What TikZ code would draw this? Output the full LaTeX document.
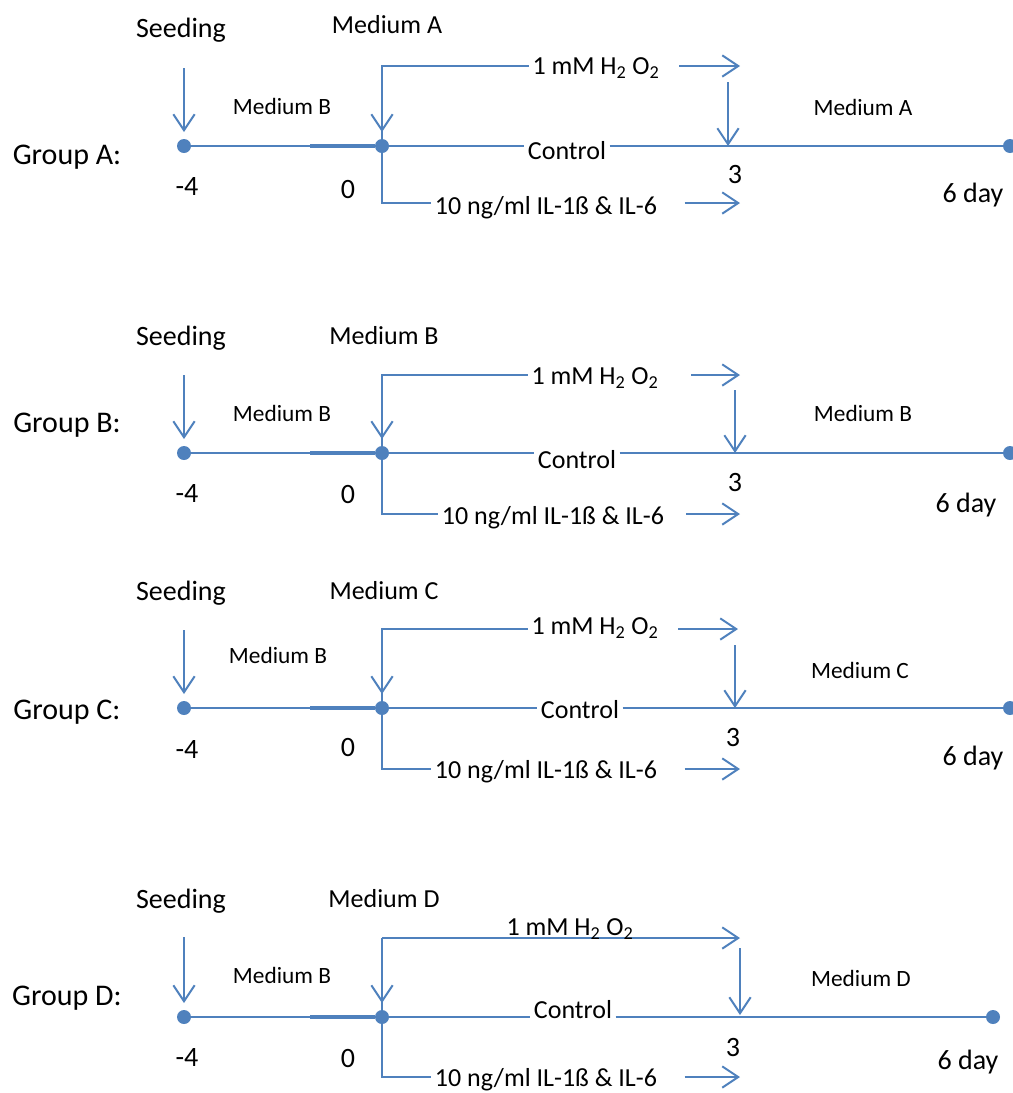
\documentclass[tikz,border=0pt]{standalone}
\usepackage{fontspec}
\setmainfont{Carlito}
\usetikzlibrary{arrows.meta}
\definecolor{ob}{HTML}{4F81BD}
\tikzset{
  ln/.style={draw=ob,line width=2.1pt},
  thk/.style={draw=ob,line width=2.5pt},
  br/.style={draw=ob,line width=1.7pt},
  arr/.style={draw=ob,line width=1.5pt,-{Straight Barb[length=12pt,width=16pt,line width=1.5pt]}},
  darr/.style={arr,shorten >=5pt},
  dot/.style={circle,fill=ob,minimum size=10.5pt,inner sep=0pt},
  grp/.style={font=\fontsize{22.5}{26}\selectfont,inner sep=0pt},
  big/.style={font=\fontsize{21}{25}\selectfont,inner sep=0pt},
  top/.style={font=\fontsize{19.5}{23}\selectfont,inner sep=0pt},
  mid/.style={font=\fontsize{19.5}{23}\selectfont,inner sep=2.5pt},
  med/.style={font=\fontsize{17.5}{21}\selectfont,inner sep=0pt},
}
\newcommand{\hho}{1 mM H\textsubscript{2} O\textsubscript{2}}
\begin{document}
\begin{tikzpicture}[x=0.75pt,y=-0.75pt]
\useasboundingbox (0,0) rectangle (1013,1093);
% ---------------- Group A ----------------
\node[grp] (ga) at (67,157) {Group A:};
\node[big] (sa) at (181,30) {Seeding};
\node[top] (mta) at (387,25) {Medium A};
\node[med] (mba) at (282,106) {Medium B};
\node[med] (mra) at (863,107) {Medium A};
\node[big] (na4) at (187,187) {-4};
\node[big] (na0) at (348,190) {0};
\node[big] (na3) at (735,175) {3};
\node[big] (na6) at (973,195) {6 day};
\node[mid] (ha) at (596,68) {\hho};
\node[mid] (ca) at (567,151) {Control};
\node[mid] (ia) at (546,208) {10 ng/ml IL-1ß \& IL-6};
\coordinate (sat) at (184,68);
\coordinate (ta) at (382,66);
\coordinate (ba) at (382,203);
\coordinate (hae) at (740,66);
\coordinate (iae) at (740,203);
\coordinate (d3a) at (728,82);
\coordinate (k3a) at (728,146);
\coordinate (tka) at (310,146);
\node[dot] (da4) at (184,146) {};
\node[dot] (da0) at (382,146) {};
\node[dot] (da6) at (1010,146) {};
\draw[ln] (da4) -- (da0) -- (da0 -| ca.west);
\draw[ln] (da6 -| ca.east) -- (da6);
\draw[thk] (tka) -- (da0);
\draw[br] (da0) -- (ta) -- (ta -| ha.west);
\draw[br] (da0) -- (ba) -- (ba -| ia.west);
\draw[arr] ([xshift=12pt]hae -| ha.east) -- (hae);
\draw[arr] ([xshift=18pt]iae -| ia.east) -- (iae);
\draw[darr] (sat) -- (da4.north);
\draw[darr] (ta) -- (da0.north);
\draw[arr] (d3a) -- (k3a);
% ---------------- Group B ----------------
\node[grp] (gb) at (67,425) {Group B:};
\node[big] (sb) at (181,338) {Seeding};
\node[top] (mtb) at (384,336) {Medium B};
\node[med] (mbb) at (282,413) {Medium B};
\node[med] (mrb) at (863,413) {Medium B};
\node[big] (nb4) at (187,494) {-4};
\node[big] (nb0) at (348,495) {0};
\node[big] (nb3) at (735,483) {3};
\node[big] (nb6) at (966,505) {6 day};
\node[mid] (hb) at (595,378) {\hho};
\node[mid] (cb) at (577,460) {Control};
\node[mid] (ib) at (553,518) {10 ng/ml IL-1ß \& IL-6};
\coordinate (sbt) at (184,375);
\coordinate (tb) at (382,375);
\coordinate (bb) at (382,514);
\coordinate (hbe) at (740,375);
\coordinate (ibe) at (740,514);
\coordinate (d3b) at (735,390);
\coordinate (k3b) at (735,453);
\coordinate (tkb) at (310,453);
\node[dot] (db4) at (184,453) {};
\node[dot] (db0) at (382,453) {};
\node[dot] (db6) at (1010,453) {};
\draw[ln] (db4) -- (db0) -- (db0 -| cb.west);
\draw[ln] (db6 -| cb.east) -- (db6);
\draw[thk] (tkb) -- (db0);
\draw[br] (db0) -- (tb) -- (tb -| hb.west);
\draw[br] (db0) -- (bb) -- (bb -| ib.west);
\draw[arr] ([xshift=22pt]hbe -| hb.east) -- (hbe);
\draw[arr] ([xshift=14pt]ibe -| ib.east) -- (ibe);
\draw[darr] (sbt) -- (db4.north);
\draw[darr] (tb) -- (db0.north);
\draw[arr] (d3b) -- (k3b);
% ---------------- Group C ----------------
\node[grp] (gc) at (67,712) {Group C:};
\node[big] (sc) at (181,593) {Seeding};
\node[top] (mtc) at (384,591) {Medium C};
\node[med] (mbc) at (278,655) {Medium B};
\node[med] (mrc) at (860,670) {Medium C};
\node[big] (nc4) at (187,749) {-4};
\node[big] (nc0) at (348,747) {0};
\node[big] (nc3) at (733,737) {3};
\node[big] (nc6) at (973,758) {6 day};
\node[mid] (hc) at (595,628) {\hho};
\node[mid] (cc) at (580,710) {Control};
\node[mid] (ic) at (546,772) {10 ng/ml IL-1ß \& IL-6};
\coordinate (sct) at (184,630);
\coordinate (tc) at (382,629);
\coordinate (bc) at (382,769);
\coordinate (hce) at (738,629);
\coordinate (ice) at (740,769);
\coordinate (d3c) at (735,645);
\coordinate (k3c) at (735,708);
\coordinate (tkc) at (310,708);
\node[dot] (dc4) at (184,708) {};
\node[dot] (dc0) at (382,708) {};
\node[dot] (dc6) at (1010,708) {};
\draw[ln] (dc4) -- (dc0) -- (dc0 -| cc.west);
\draw[ln] (dc6 -| cc.east) -- (dc6);
\draw[thk] (tkc) -- (dc0);
\draw[br] (dc0) -- (tc) -- (tc -| hc.west);
\draw[br] (dc0) -- (bc) -- (bc -| ic.west);
\draw[arr] ([xshift=12pt]hce -| hc.east) -- (hce);
\draw[arr] ([xshift=18pt]ice -| ic.east) -- (ice);
\draw[darr] (sct) -- (dc4.north);
\draw[darr] (tc) -- (dc0.north);
\draw[arr] (d3c) -- (k3c);
% ---------------- Group D ----------------
\node[grp] (gd) at (67,998) {Group D:};
\node[big] (sd) at (181,901) {Seeding};
\node[top] (mtd) at (384,899) {Medium D};
\node[med] (mbd) at (282,975) {Medium B};
\node[med] (mrd) at (861,978) {Medium D};
\node[big] (nd4) at (187,1057) {-4};
\node[big] (nd0) at (348,1058) {0};
\node[big] (nd3) at (733,1047) {3};
\node[big] (nd6) at (968,1062) {6 day};
\node[mid] (cd) at (573,1010) {Control};
\node[mid] (id) at (546,1080) {10 ng/ml IL-1ß \& IL-6};
\coordinate (sdt) at (184,937);
\coordinate (td) at (382,938);
\coordinate (bd) at (382,1077);
\coordinate (hde) at (740,938);
\coordinate (ide) at (740,1077);
\coordinate (d3d) at (740,948);
\coordinate (k3d) at (740,1015);
\coordinate (tkd) at (310,1017);
\node[dot] (dd4) at (184,1017) {};
\node[dot] (dd0) at (382,1017) {};
\node[dot] (dd6) at (993,1017) {};
\draw[ln] (dd4) -- (dd0) -- (dd0 -| cd.west);
\draw[ln] (dd6 -| cd.east) -- (dd6);
\draw[thk] (tkd) -- (dd0);
\draw[br] (dd0) -- (td);
\draw[arr] (td) -- (hde);
\node[mid] (hd) at (570,929) {\hho};
\draw[br] (dd0) -- (bd) -- (bd -| id.west);
\draw[arr] ([xshift=18pt]ide -| id.east) -- (ide);
\draw[darr] (sdt) -- (dd4.north);
\draw[darr] (td) -- (dd0.north);
\draw[arr] (d3d) -- (k3d);
\end{tikzpicture}
\end{document}
